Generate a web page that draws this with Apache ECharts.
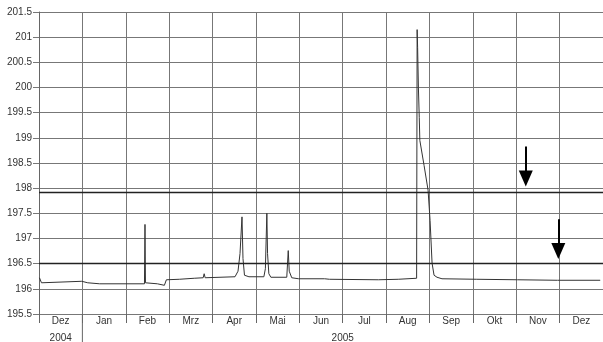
<!DOCTYPE html>
<html>
<head>
<meta charset="utf-8">
<script src="https://cdn.jsdelivr.net/npm/echarts@6/dist/echarts.min.js"></script>
<style>
html,body{margin:0;padding:0;background:#fff;}
#c{width:603px;height:342px;}
</style>
</head>
<body>
<div id="c"></div>
<script>
// Month labels (Dez 2004 .. Dez 2005), x in month index since 1 Dez 2004
const months = ['Dez','Jan','Feb','Mrz','Apr','Mai','Jun','Jul','Aug','Sep','Okt','Nov','Dez'];
const years = ['2004', '2005'];
const yearCenters = [0.5, 7];
const yearSeparator = 1;

// Water level series
const monthIndex = [0.011,0.046,0.057,0.080,0.986,1.124,1.399,2.431,2.443,2.454,2.729,2.775,2.890,2.936,3.234,3.578,3.784,3.807,3.830,4.518,4.587,4.633,4.679,4.702,4.736,4.839,5.183,5.218,5.252,5.268,5.298,5.344,5.711,5.745,5.768,5.826,5.986,6.583,6.628,6.697,7.821,8.280,8.704,8.716,8.727,8.745,8.765,8.778,8.876,8.968,9.014,9.060,9.106,9.174,9.289,10.092,11.032,11.950,12.936];
const level =      [196.22,196.20,196.12,196.15,196.15,196.12,196.10,196.10,197.28,196.12,196.10,196.07,196.07,196.18,196.19,196.21,196.22,196.30,196.22,196.24,196.35,196.70,197.43,196.60,196.27,196.24,196.24,196.40,197.50,196.70,196.30,196.23,196.23,196.76,196.35,196.22,196.20,196.20,196.23,196.19,196.18,196.19,196.21,201.15,200.80,200.00,199.40,198.95,198.45,197.96,197.36,196.51,196.27,196.23,196.20,196.19,196.18,196.17,196.17];

// Reference lines and arrow annotations
const thresholds = [197.92, 196.5];
const arrows = [
  {x: 11.22, from: 198.83, to: 198.19},
  {x: 11.97, from: 197.38, to: 196.75}
];

const yTicks = {min: 195.5, max: 201.5, interval: 0.5};

const chart = echarts.init(document.getElementById('c'), null, {renderer: 'canvas'});
const font = 'Arial, "Liberation Sans", sans-serif';

const mlData = thresholds.map(v => ({yAxis: v, lineStyle: {color: '#222', width: 1.3, type: 'solid'}}));
arrows.forEach(a => {
  mlData.push([
    {coord: [a.x, a.from], symbol: 'none', lineStyle: {color: '#000', width: 2, type: 'solid'}},
    {coord: [a.x, a.to], symbol: 'triangle'}
  ]);
});

chart.setOption({
  animation: false,
  grid: {left: 39, top: 12, width: 567, height: 302},
  xAxis: [
    {
      type: 'value', min: 0, max: 13, interval: 1,
      axisLabel: {show: false},
      axisLine: {show: false},
      axisTick: {show: true, length: 9, lineStyle: {color: '#666'}},
      splitLine: {show: true, lineStyle: {color: '#777', width: 1}}
    },
    {
      type: 'category', data: months, position: 'bottom', boundaryGap: true,
      axisLine: {show: false}, axisTick: {show: false}, splitLine: {show: false},
      axisLabel: {margin: 2, fontSize: 10, color: '#333', fontFamily: font}
    }
  ],
  yAxis: {
    type: 'value', min: yTicks.min, max: yTicks.max, interval: yTicks.interval,
    axisLine: {show: true, lineStyle: {color: '#666'}},
    axisTick: {show: true, length: 10, lineStyle: {color: '#777'}},
    splitLine: {show: true, lineStyle: {color: '#777', width: 1}},
    axisLabel: {margin: 6, fontSize: 10, color: '#333', fontFamily: font, backgroundColor: '#fff', padding: [0, 1]}
  },
  series: [{
    type: 'line',
    data: monthIndex.map((x, i) => [x, level[i]]),
    showSymbol: false,
    lineStyle: {color: '#333', width: 1},
    markLine: {
      silent: true, animation: false,
      symbol: 'none', symbolSize: [14, 16],
      label: {show: false},
      itemStyle: {color: '#000'},
      data: mlData
    }
  }]
});

// year row under the month labels
const sepX = chart.convertToPixel({xAxisIndex: 0}, yearSeparator);
const bottomY = chart.convertToPixel({yAxisIndex: 0}, yTicks.min);
const graphics = [{
  type: 'line', shape: {x1: sepX, y1: bottomY, x2: sepX, y2: 342},
  style: {stroke: '#666', lineWidth: 1}
}];
years.forEach((y, i) => {
  graphics.push({
    type: 'text',
    x: chart.convertToPixel({xAxisIndex: 0}, yearCenters[i]),
    y: 338,
    style: {text: y, fill: '#333', font: '10px ' + font, align: 'center', verticalAlign: 'middle'}
  });
});
chart.setOption({graphic: graphics});
</script>
</body>
</html>
